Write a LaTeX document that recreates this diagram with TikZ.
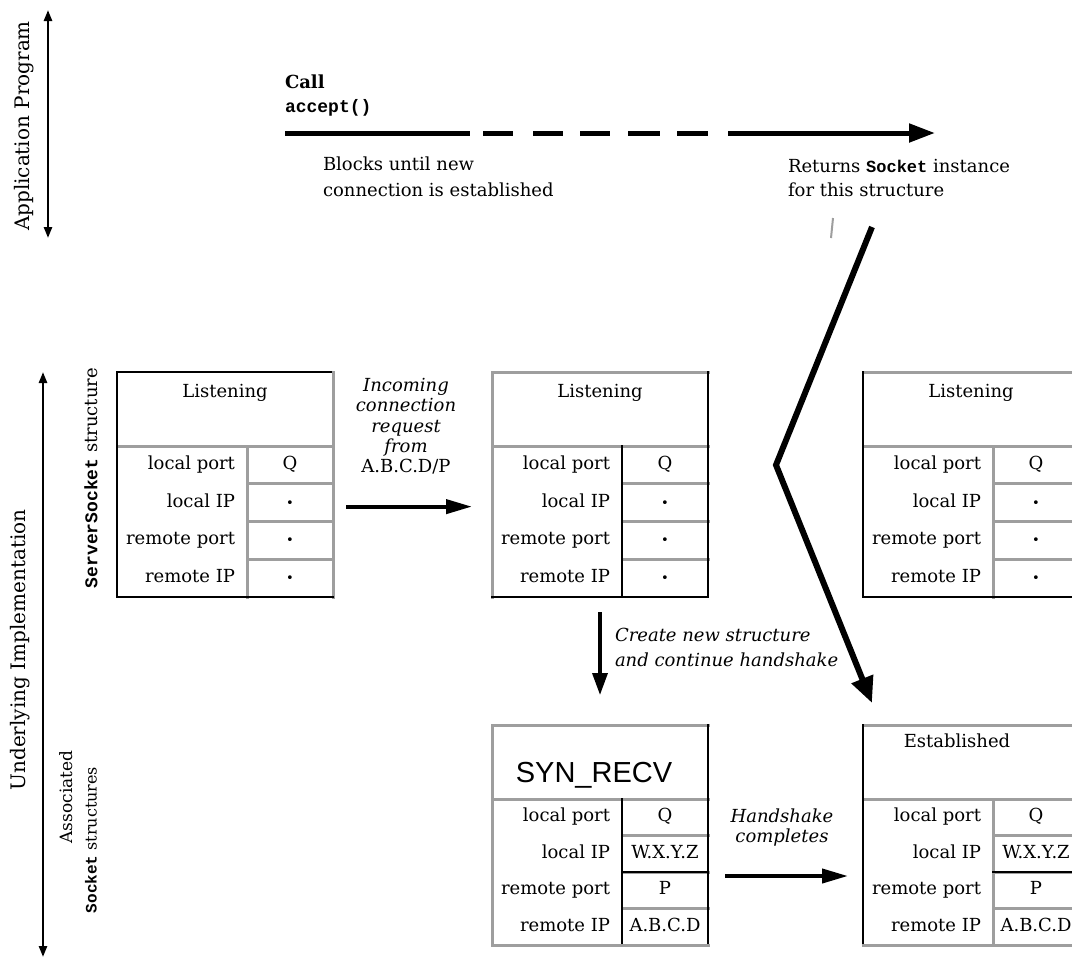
\documentclass[tikz,border=0pt]{standalone}
\usepackage{fontspec}
\setmainfont{DejaVu Serif}
\newfontfamily\monof{Liberation Mono}
\newfontfamily\sansf{Liberation Sans}
\usetikzlibrary{arrows.meta,calc}
\definecolor{lg}{gray}{0.62}
\newcommand\fs[1]{\fontsize{#1}{#1}\selectfont}
\newcommand\starv{{\fs{13}•}}
% #1 name, #2 left, #3 top, #4 bottom, #5 top line, #6 left line, #7 right line, #8 bottom line, #9 column line
\newcommand\sockframe[9]{%
  \pgfmathsetmacro\sfH{#3+74}%
  \pgfmathsetmacro\sfS{(#4-#3-74)/4}%
  \pgfmathsetmacro\sfA{\sfH+\sfS}%
  \pgfmathsetmacro\sfB{\sfH+2*\sfS}%
  \pgfmathsetmacro\sfC{\sfH+3*\sfS}%
  \pgfmathsetmacro\sfR{#2+216}%
  \pgfmathsetmacro\sfK{#2+130}%
  \node[frame,minimum height={#4-#3}] (#1) at (#2,#3) {};
  \coordinate (#1-r2) at (\sfR,\sfB);
  \coordinate (#1-r2l) at (\sfK,\sfB);
  \coordinate (#1-v1) at (\sfK+43,{\sfH+0.5*\sfS});
  \coordinate (#1-v2) at (\sfK+43,{\sfH+1.5*\sfS});
  \coordinate (#1-v3) at (\sfK+43,{\sfH+2.5*\sfS});
  \coordinate (#1-v4) at (\sfK+43,{\sfH+3.5*\sfS});
  \draw[gl] (#2,\sfH) -- (\sfR,\sfH);
  \draw[gl] (\sfK,\sfA) -- (\sfR,\sfA);
  \draw[gl] (\sfK,\sfB) -- (\sfR,\sfB);
  \draw[gl] (\sfK,\sfC) -- (\sfR,\sfC);
  \draw[#9] (\sfK,\sfH) -- (\sfK,#4);
  \draw[#5] (#1.north west) -- (#1.north east);
  \draw[#6] (#1.north west) -- (#1.south west);
  \draw[#7] (#1.north east) -- (#1.south east);
  \draw[#8] (#1.south west) -- (#1.south east);
  \node[txt,anchor=east] (#1-l1) at (\sfK-12,{\sfH+0.5*\sfS}) {local port};
  \node[txt,anchor=east] (#1-l2) at (\sfK-12,{\sfH+1.5*\sfS}) {local IP};
  \node[txt,anchor=east] (#1-l3) at (\sfK-12,{\sfH+2.5*\sfS}) {remote port};
  \node[txt,anchor=east] (#1-l4) at (\sfK-12,{\sfH+3.5*\sfS}) {remote IP};
}
\newcommand\sockvals[5]{%
  \node[txt] (#1-va) at (#1-v1) {#2};
  \node[txt] (#1-vb) at (#1-v2) {#3};
  \node[txt] (#1-vc) at (#1-v3) {#4};
  \node[txt] (#1-vd) at (#1-v4) {#5};
}
\begin{document}
\begin{tikzpicture}[x=1pt,y=-1pt,
 txt/.style={inner sep=0pt,outer sep=0pt,text height=13pt,text depth=4pt,font=\fs{18}},
 itx/.style={txt,font=\fs{18}\itshape},
 frame/.style={rectangle,draw=none,minimum width=216pt,inner sep=0pt,outer sep=0pt,anchor=north west},
 bl/.style={draw=black,line width=2.4pt,line cap=rect},
 gl/.style={draw=lg,line width=3pt,line cap=rect},
 topar/.style={line width=5pt,-{Triangle[length=26pt,width=18pt]},
   dash pattern=on 185pt off 13pt on 30pt off 20pt on 30pt off 17pt on 30pt off 18pt on 32pt off 17pt on 31pt off 20pt on 400pt},
 harr/.style={line width=4pt,-{Triangle[length=26pt,width=14pt]}},
 varr/.style={line width=3.5pt,-{Triangle[length=22pt,width=15pt]}},
 bigarr/.style={line width=6pt,line join=miter,-{Triangle[length=26pt,width=22pt]}},
 axisar/.style={line width=2.4pt,{Triangle[length=11pt,width=8pt]}-{Triangle[length=11pt,width=8pt]}},
 rlab/.style={inner sep=0pt,rotate=90}
]
\useasboundingbox (0,0) rectangle (1072,959);
\fill[white] (0,0) rectangle (1072,959);
\clip (0,0) rectangle (1072,959);

% left axes and labels
\coordinate (ax1t) at (48,10);
\coordinate (ax1b) at (48,238);
\draw[axisar] (ax1t) -- (ax1b);
\node[rlab,font=\fs{20}] (lapp) at (24,126) {Application Program};
\coordinate (ax2t) at (43,372);
\coordinate (ax2b) at (43,957);
\draw[axisar] (ax2t) -- (ax2b);
\node[rlab,font=\fs{20}] (limpl) at (20,650) {Underlying Implementation};
\node[rlab,font=\fs{18}] (lss) at (91,478) {{\monof\bfseries ServerSocket} structure};
\node[rlab,font=\fs{17}] (lassoc) at (66,797) {Associated};
\node[rlab,font=\fs{16}] (lsock) at (91,840) {{\monof\bfseries Socket} structures};

% top: accept call
\node[txt,anchor=base west,font=\fs{18}\bfseries] (call) at (285,88) {Call};
\node[txt,anchor=base west,font=\fs{18}\monof\bfseries] (acc) at (285,112) {accept()};
\coordinate (callL) at (285,133);
\coordinate (callR) at (935,133);
\draw[topar] (callL) -- (callR);
\node[txt,anchor=base west] (blk1) at (323,170) {Blocks until new};
\node[txt,anchor=base west] (blk2) at (323,196) {connection is established};
\node[txt,anchor=base west] (ret1) at (788,172) {Returns {\monof\bfseries\fs{17}Socket} instance};
\node[txt,anchor=base west] (ret2) at (788,196) {for this structure};
\draw[lg,line width=2pt] (833,218) -- (831,238);

% tables
\sockframe{b1}{117}{372}{597}{bl}{bl}{gl}{bl}{gl}
\sockvals{b1}{Q}{\starv}{\starv}{\starv}
\node[txt] (b1t) at (225,393) {Listening};

\sockframe{b2}{492}{372}{597}{gl}{gl}{bl}{bl}{bl}
\sockvals{b2}{Q}{\starv}{\starv}{\starv}
\node[txt] (b2t) at (600,393) {Listening};

\sockframe{b3}{863}{372}{597}{gl}{bl}{gl}{bl}{gl}
\sockvals{b3}{Q}{\starv}{\starv}{\starv}
\node[txt] (b3t) at (971,393) {Listening};

\sockframe{b4}{492}{725}{945}{gl}{gl}{bl}{gl}{bl}
\draw[bl] (b4-r2l) -- (b4-r2);
\sockvals{b4}{Q}{W.X.Y.Z}{P}{A.B.C.D}
\node[inner sep=0pt,font=\fs{29}\sansf] (b4t) at (594,775) {SYN\_RECV};

\sockframe{b5}{863}{725}{945}{gl}{bl}{gl}{gl}{gl}
\draw[bl] (b5-r2l) -- (b5-r2);
\sockvals{b5}{Q}{W.X.Y.Z}{P}{A.B.C.D}
\node[txt] (b5t) at (957,743) {Established};

% incoming connection
\node[itx] (in1) at (406,387) {Incoming};
\node[itx] (in2) at (406,407) {connection};
\node[itx] (in3) at (406,428) {request};
\node[itx] (in4) at (406,448) {from};
\node[txt] (in5) at (406,468) {A.B.C.D/P};
\draw[harr] ($(b1.north east |- b1-l2.center)+(13,4)$) -- ($(b2.north west |- b1-l2.center)+(-20,4)$);

% create new structure
\node[itx,anchor=west] (cr1) at (615,637) {Create new structure};
\node[itx,anchor=west] (cr2) at (615,662) {and continue handshake};
\draw[varr] ($(b2.south)+(0,15)$) -- ($(b4.north)+(0,-30)$);

% handshake completes
\node[itx] (hs1) at (782,818) {Handshake};
\node[itx] (hs2) at (782,838) {completes};
\draw[harr] ($(b4-r2)+(17,4)$) -- ($(b5.west |- b4-r2)+(-15,4)$);

% returns socket: big arrow
\coordinate (retpt) at (872,227);
\coordinate (bendpt) at (776,465);
\draw[bigarr] (retpt) -- (bendpt) -- ($(b5.north west)+(9,-22)$);
\end{tikzpicture}
\end{document}
